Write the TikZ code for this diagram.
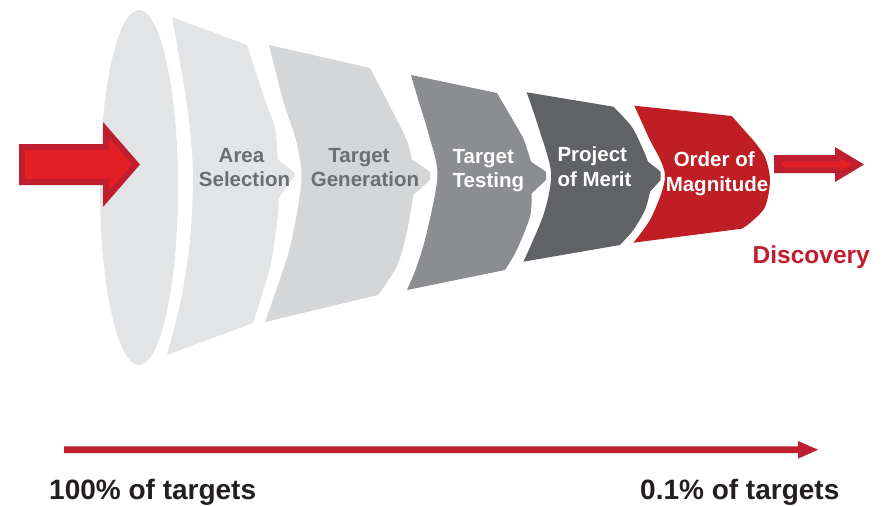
\documentclass[tikz,border=0pt]{standalone}
\usepackage{fontspec}
\setmainfont{Liberation Sans}
\definecolor{segA}{HTML}{E3E4E5}
\definecolor{segB}{HTML}{D5D6D8}
\definecolor{segC}{HTML}{8C8D91}
\definecolor{segD}{HTML}{616266}
\definecolor{segE}{HTML}{BE1E24}
\definecolor{txtgray}{HTML}{6D6E71}
\definecolor{darkred}{HTML}{BE1E2D}
\definecolor{brightred}{HTML}{E31E25}
\definecolor{ink}{HTML}{231F20}
\tikzset{
  segtxt/.style={font=\bfseries\fontsize{20.5}{24}\selectfont, inner sep=0pt, anchor=base},
  segtxtl/.style={segtxt, anchor=base west},
  bottomtxt/.style={font=\bfseries\fontsize{28}{32}\selectfont, inner sep=0pt, anchor=base west, text=ink},
  disctxt/.style={font=\bfseries\fontsize{24.5}{28}\selectfont, inner sep=0pt, anchor=base west, text=darkred},
}
\begin{document}
\begin{tikzpicture}[x=1pt,y=-1pt]
\useasboundingbox (0,0) rectangle (887,506);
\fill[white] (0,0) rectangle (887,506);

% first (mouth) ellipse
\fill[segA] (139,187.5) ellipse [x radius=39pt, y radius=177.5pt];

% segment 1: Area Selection
\fill[segA] plot[smooth] coordinates {(172,17) (181,67) (189,120) (193,175) (190,240) (181,300) (167,355)}
  -- plot[smooth] coordinates {(253,323) (270,267) (278,215) (278.3,198.3)}
  -- (294.3,176.7) -- (294.3,172.7)
  -- plot[smooth] coordinates {(277.7,159.3) (275,128) (265,100) (247,45)}
  -- cycle;

% segment 2: Target Generation
\fill[segB] plot[smooth] coordinates {(269,45) (283,100) (296,140) (301.5,175) (297,213) (287,258) (265,322)}
  -- plot[smooth] coordinates {(378,295) (396.7,266.7) (406.7,233) (413.3,195)}
  -- (430,180) -- (430,171.7)
  -- plot[smooth] coordinates {(411.7,159.3) (406.7,140) (386.7,100) (370,68)}
  -- cycle;

% segment 3: Target Testing
\fill[segC] plot[smooth] coordinates {(411,75) (418.3,100) (428.3,133) (437.5,175) (426.7,233) (416.7,266.7) (407,290)}
  -- plot[smooth] coordinates {(505,270) (516.7,250) (530,216.7) (531.7,193.3)}
  -- (546,180) -- (546,171.7)
  -- plot[smooth] coordinates {(531,161.7) (524,140) (516.7,126.7) (497,93)}
  -- cycle;

% segment 4: Project of Merit
\fill[segD] plot[smooth] coordinates {(526.7,92.3) (538.3,126.7) (551,172) (545,210) (531.7,243.3) (523.3,261.7)}
  -- plot[smooth] coordinates {(620,245) (633.3,230) (645,210) (650,191.7)}
  -- (660.7,180) -- (660.7,171.7)
  -- plot[smooth] coordinates {(648,161.7) (643.3,150) (631.7,126.7) (613.3,106.7)}
  -- cycle;

% segment 5: Order of Magnitude
\fill[segE] plot[smooth] coordinates {(634.3,105.7) (648.3,136.7) (665,175) (651.7,216.7) (633.3,242.7)}
  -- plot[smooth] coordinates {(741.7,228.7) (750,223) (765,207) (770,180) (765,157) (753,140)}
  -- (731.7,116)
  -- cycle;

% input arrow
\fill[darkred] (19,144) -- (103,144) -- (103,122) -- (140,164.5) -- (103,207) -- (103,185) -- (19,185) -- cycle;
\fill[brightred] (25,150) -- (109,150) -- (109,138) -- (132,164.5) -- (109,191) -- (109,179) -- (25,179) -- cycle;

% output arrow
\fill[darkred] (774,155) -- (835,155) -- (835,147) -- (864,164.5) -- (835,182) -- (835,173) -- (774,173) -- cycle;
\fill[brightred] (782,161.5) -- (840,161.5) -- (840,158) -- (853,164.5) -- (840,171) -- (840,167) -- (782,167) -- cycle;

% bottom arrow
\fill[darkred] (64,446.3) -- (798,446.3) -- (798,441) -- (818,449.7) -- (798,458.7) -- (798,453) -- (64,453) -- cycle;

% labels
\node[segtxt, text=txtgray] (areaA) at (241.5,162.5) {Area};
\node[segtxt, text=txtgray] (areaB) at (244.5,186.7) {Selection};
\node[segtxt, text=txtgray] (genA) at (359,162.7) {Target};
\node[segtxt, text=txtgray] (genB) at (365,186.7) {Generation};
\node[segtxtl, text=white] (testA) at (452.5,163) {Target};
\node[segtxtl, text=white] (testB) at (452.5,187.3) {Testing};
\node[segtxtl, text=white] (meritA) at (557.3,161.7) {Project};
\node[segtxtl, text=white] (meritB) at (557.3,186.3) {of Merit};
\node[segtxt, text=white] (magA) at (714.2,166.7) {Order of};
\node[segtxt, text=white] (magB) at (717,191) {Magnitude};

\node[disctxt] (disc) at (752.5,263) {Discovery};
\node[bottomtxt] (hundred) at (49,499) {100\% of targets};
\node[bottomtxt] (tenth) at (640,499) {0.1\% of targets};
\end{tikzpicture}
\end{document}
